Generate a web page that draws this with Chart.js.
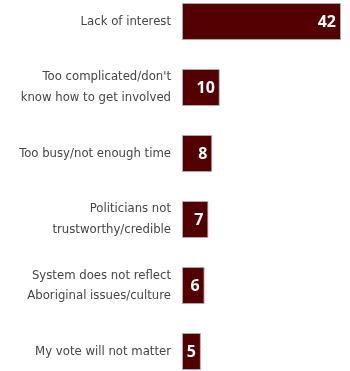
<!DOCTYPE html>
<html>
<head>
<meta charset="utf-8">
<script src="https://cdn.jsdelivr.net/npm/chart.js@4.4.0/dist/chart.umd.min.js"></script>
<style>
  html, body { margin: 0; padding: 0; background: #fff; overflow: hidden; width: 350px; height: 371px; }
  #chart { position: absolute; left: 0; top: -33px; }
</style>
</head>
<body>
<canvas id="chart" width="350" height="439"></canvas>
<script>
const reasons = [
  ["Lack of interest"],
  ["Too complicated/don't", "know how to get involved"],
  ["Too busy/not enough time"],
  ["Politicians not", "trustworthy/credible"],
  ["System does not reflect", "Aboriginal issues/culture"],
  ["My vote will not matter"]
];
const percents = [42, 10, 8, 7, 6, 5];

const valueLabels = {
  id: "valueLabels",
  afterDatasetsDraw(chart) {
    const ctx = chart.ctx;
    const meta = chart.getDatasetMeta(0);
    ctx.save();
    ctx.fillStyle = "#ffffff";
    ctx.font = "bold 16px 'Open Sans'";
    ctx.textAlign = "right";
    ctx.textBaseline = "middle";
    meta.data.forEach((bar, i) => {
      ctx.fillText(String(percents[i]), bar.x - 5, bar.y + 1);
    });
    ctx.restore();
  }
};

new Chart(document.getElementById("chart"), {
  type: "bar",
  data: {
    labels: reasons,
    datasets: [{
      data: percents,
      backgroundColor: "#520000",
      borderColor: "#b0a8a8",
      borderWidth: 1,
      borderSkipped: false,
      categoryPercentage: 1,
      barPercentage: 0.56
    }]
  },
  options: {
    indexAxis: "y",
    responsive: false,
    animation: false,
    layout: { padding: { top: 0, bottom: 0, left: 0, right: 9 } },
    plugins: { legend: { display: false }, tooltip: { enabled: false } },
    scales: {
      x: {
        display: false,
        min: 0,
        max: 42
      },
      y: {
        grid: { display: false, drawTicks: false },
        border: { display: false },
        ticks: {
          color: "#454545",
          padding: 11,
          font: { family: "'DejaVu Sans Condensed', 'Roboto'", size: 13, lineHeight: 1.6 }
        },
        afterFit(scale) { scale.width = 182; }
      }
    }
  },
  plugins: [valueLabels]
});
</script>
</body>
</html>
